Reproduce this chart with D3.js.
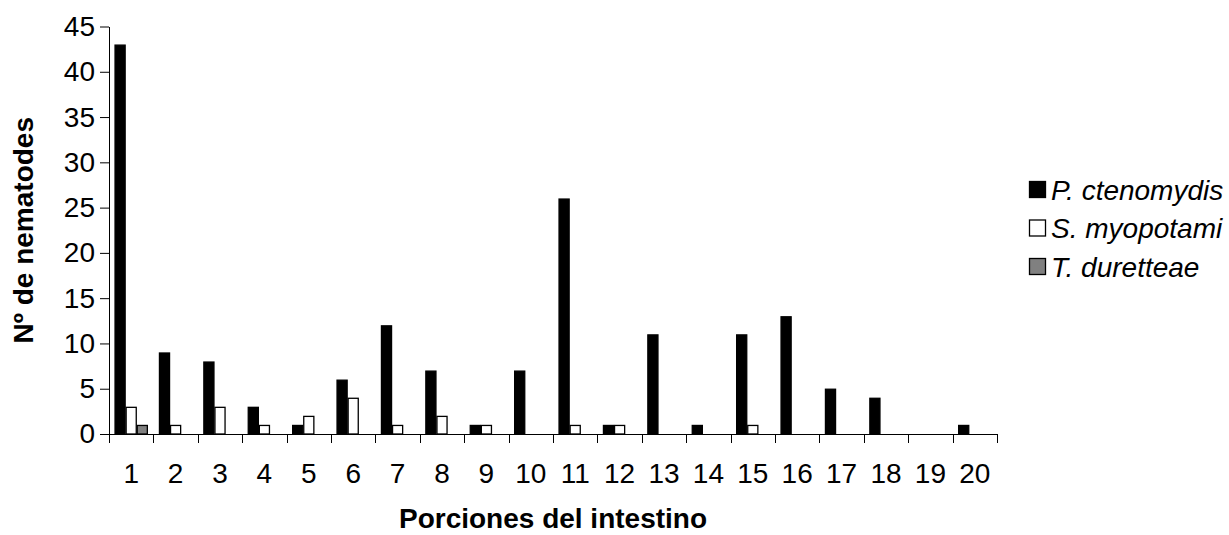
<!DOCTYPE html>
<html>
<head>
<meta charset="utf-8">
<script src="https://cdn.jsdelivr.net/npm/d3@7"></script>
<style>
  html, body { margin: 0; padding: 0; background: #fff; }
  svg { display: block; font-family: "Liberation Sans", Arial, sans-serif; }
</style>
</head>
<body>
<svg id="chart" width="1229" height="535"></svg>
<script>
// Intestinal portions (1 = anterior ... 20 = posterior)
const categories = ["1","2","3","4","5","6","7","8","9","10","11","12","13","14","15","16","17","18","19","20"];

// Number of nematodes found per portion, by species
const seriesNames = ["P. ctenomydis", "S. myopotami", "T. duretteae"];
const pCtenomydis = [43, 9, 8, 3, 1, 6, 12, 7, 1, 7, 26, 1, 11, 1, 11, 13, 5, 4, 0, 1];
const sMyopotami  = [3, 1, 3, 1, 2, 4, 1, 2, 1, 0, 1, 1, 0, 0, 1, 0, 0, 0, 0, 0];
const tDuretteae  = [1, 0, 0, 0, 0, 0, 0, 0, 0, 0, 0, 0, 0, 0, 0, 0, 0, 0, 0, 0];
const seriesFill  = ["#000000", "#ffffff", "#808080"];

const yTicks = [0, 5, 10, 15, 20, 25, 30, 35, 40, 45];

const seriesValues = [pCtenomydis, sMyopotami, tDuretteae];
const rows = categories.map((c, i) => ({
  cat: c,
  values: seriesNames.map((s, k) => ({ series: s, value: seriesValues[k][i], fill: seriesFill[k] }))
}));

const svg = d3.select("#chart");
const plot = { left: 109, right: 997, top: 26.5, bottom: 434 };
const fontSize = 28;

const x0 = d3.scaleBand().domain(categories).range([plot.left, plot.right]).padding(0);
const x1 = d3.scaleBand().domain(seriesNames).range([0, x0.bandwidth()])
  .paddingInner(0).paddingOuter(0.5);
const y = d3.scaleLinear().domain([0, 45]).range([plot.bottom, plot.top]);

// Bars
const groups = svg.append("g").selectAll("g")
  .data(rows).join("g")
  .attr("transform", d => `translate(${x0(d.cat)},0)`);

groups.selectAll("rect")
  .data(d => d.values.filter(v => v.value > 0))
  .join("rect")
  .attr("x", d => x1(d.series) + 0.5)
  .attr("y", d => y(d.value) + 0.5)
  .attr("width", x1.bandwidth() - 1)
  .attr("height", d => y(0) - y(d.value) - 0.5)
  .attr("fill", d => d.fill)
  .attr("stroke", "#000")
  .attr("stroke-width", 1.3);

// Y axis
const yAxis = svg.append("g")
  .attr("transform", `translate(${plot.left},0)`)
  .call(d3.axisLeft(y).tickValues(yTicks).tickSize(9).tickSizeOuter(0).tickPadding(5));
yAxis.selectAll("text").attr("font-size", fontSize).attr("fill", "#000");
yAxis.selectAll("line").attr("stroke", "#000");
yAxis.select(".domain").attr("stroke", "#000");

// X axis: category labels centred, tick marks on category boundaries
const xAxis = svg.append("g")
  .attr("transform", `translate(0,${plot.bottom})`)
  .call(d3.axisBottom(x0).tickSize(0).tickPadding(29));
xAxis.select(".domain").remove();
xAxis.selectAll("text").attr("font-size", fontSize).attr("fill", "#000");

const bounds = categories.map(c => x0(c)).concat([x0.range()[1]]);
svg.append("line")
  .attr("x1", plot.left).attr("x2", plot.right)
  .attr("y1", y(0) + 0.5).attr("y2", y(0) + 0.5)
  .attr("stroke", "#000");
svg.append("g").selectAll("line")
  .data(bounds).join("line")
  .attr("x1", d => Math.round(d) + 0.5).attr("x2", d => Math.round(d) + 0.5)
  .attr("y1", y(0)).attr("y2", y(0) + 9)
  .attr("stroke", "#000");

// Axis titles
svg.append("text")
  .attr("transform", `translate(33,${(plot.top + plot.bottom) / 2}) rotate(-90)`)
  .attr("text-anchor", "middle")
  .attr("font-size", fontSize).attr("font-weight", "bold")
  .text("Nº de nematodes");

svg.append("text")
  .attr("x", (plot.left + plot.right) / 2).attr("y", 528)
  .attr("text-anchor", "middle")
  .attr("font-size", fontSize).attr("font-weight", "bold")
  .text("Porciones del intestino");

// Legend
const legend = svg.append("g").attr("transform", "translate(1029,190)");
const items = legend.selectAll("g")
  .data(seriesNames).join("g")
  .attr("transform", (d, i) => `translate(0,${i * 38.5})`);
items.append("rect")
  .attr("x", 0.5).attr("y", -8.5).attr("width", 16).attr("height", 16)
  .attr("fill", (d, i) => seriesFill[i]).attr("stroke", "#000").attr("stroke-width", 1.3);
items.append("text")
  .attr("x", 22).attr("dy", "0.35em")
  .attr("font-size", fontSize).attr("font-style", "italic")
  .text(d => d);
</script>
</body>
</html>
